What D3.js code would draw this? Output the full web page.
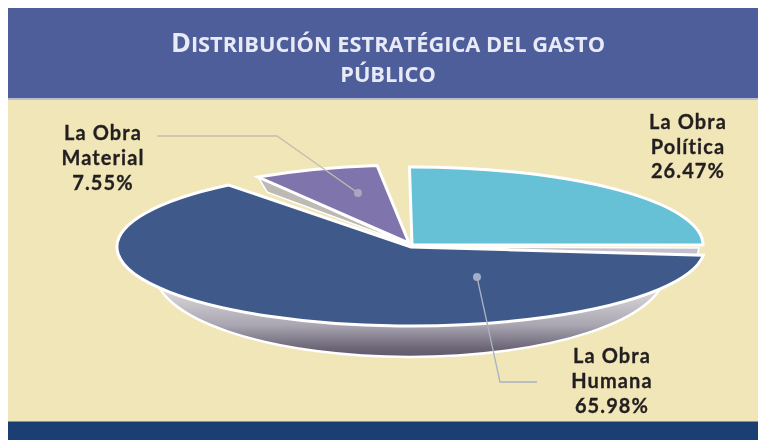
<!DOCTYPE html>
<html><head><meta charset="utf-8">
<script src="https://cdn.jsdelivr.net/npm/d3@7"></script>
<style>html,body{margin:0;padding:0;background:#fff}svg{display:block;filter:blur(.55px)}</style>
</head><body><svg id="c" width="758" height="443"></svg>
<script>
const categories = ["La Obra Política", "La Obra Humana", "La Obra Material"];
const values = [26.47, 65.98, 7.55];
const sliceColors = ["#66c1d6", "#3f5a8a", "#7f74ab"];
const titleLines = ["Distribución estratégica del gasto", "público"];

const svg = d3.select("#c");
const font = "'Open Sans','Noto Sans',sans-serif";
const labelFont = "Lato,'Open Sans',sans-serif";
const rad = d => d * Math.PI / 180;

// panels
svg.append("rect").attr("x",8).attr("y",8).attr("width",750).attr("height",414).attr("fill","#f0e6b8");
svg.append("rect").attr("x",8).attr("y",8).attr("width",750).attr("height",90).attr("fill","#4e5e9a");
svg.append("rect").attr("x",8).attr("y",98).attr("width",750).attr("height",2).attr("fill","#b9bfcf");
svg.append("rect").attr("x",8).attr("y",422).attr("width",750).attr("height",18).attr("fill","#1c3f73");
svg.append("rect").attr("x",8).attr("y",421).attr("width",750).attr("height",1).attr("fill","#8a8f8f");

// title in small caps
const titleY = [52, 82];
titleLines.forEach((line, i) => {
  const t = svg.append("text").attr("x",388).attr("y",titleY[i]).attr("text-anchor","middle")
    .attr("font-family",font).attr("font-weight",700).attr("fill","#e8eaf6");
  if (i === 0) {
    t.append("tspan").attr("font-size",27).text(line[0].toUpperCase());
    t.append("tspan").attr("font-size",21.8).text(line.slice(1).toUpperCase());
  } else {
    t.append("tspan").attr("font-size",21.8).text(line.toUpperCase());
  }
});

// gradients
const defs = svg.append("defs");
const g1 = defs.append("linearGradient").attr("id","dish").attr("x1",0).attr("x2",0).attr("y1",0).attr("y2",1);
[[0.25,"#d6d3d6"],[0.62,"#aaa6b2"],[0.9,"#6b6576"],[1,"#5f596b"]].forEach(s =>
  g1.append("stop").attr("offset",s[0]).attr("stop-color",s[1]));

// pie layout: drawn angles come from the values, with a gap between slices
const gapDeg = 6;
const pie = d3.pie().value(d => d).sort(null)
  .startAngle(rad(-3.5)).endAngle(rad(356.5)).padAngle(rad(gapDeg));
const arcs = pie(values).map(a => ({
  ...a,
  padAngle: 0,
  startAngle: a.startAngle + rad(gapDeg) / 2,
  endAngle: a.endAngle - rad(gapDeg) / 2
}));

const geom = [
  {cx:412, cy:245, rx:291, ry:78},
  {cx:411, cy:247, rx:294, ry:79},
  {cx:409, cy:243, rx:282, ry:78}
];
const arcGen = rx => d3.arc().innerRadius(0).outerRadius(rx);
const rim = (g, a) => {
  const p = d3.pointRadial(a, g.rx);
  return [g.cx + p[0], g.cy + p[1] * g.ry / g.rx];
};

// under-side dish
svg.append("g").attr("transform","translate(410,272) scale(1," + (85/255) + ")")
  .append("path")
  .attr("d", d3.arc().innerRadius(0).outerRadius(255).startAngle(rad(90)).endAngle(rad(270))())
  .attr("fill","url(#dish)").attr("stroke","#fff").attr("stroke-width",2.5)
  .attr("vector-effect","non-scaling-stroke");

// cut walls
const line = d3.line();
const pT = rim(geom[0], arcs[0].endAngle);
svg.append("path")
  .attr("d", line([[geom[0].cx + 2, geom[0].cy + 2], [pT[0] - 4, pT[1] + 3], [pT[0] - 6, pT[1] + 11]]) + "Z")
  .attr("fill","#c4bfd0").attr("stroke","#fff").attr("stroke-width",1.5);
const pM = rim(geom[2], arcs[2].startAngle);
svg.append("path")
  .attr("d", line([[pM[0], pM[1]], [pM[0] + 9, pM[1] + 15], [geom[2].cx - 4, geom[2].cy]]) + "Z")
  .attr("fill","#bdb9b4").attr("stroke","#fff").attr("stroke-width",1.5);

// slices
arcs.forEach((a, i) => {
  const g = geom[i];
  svg.append("g").attr("transform",`translate(${g.cx},${g.cy}) scale(1,${g.ry/g.rx})`)
    .append("path")
    .attr("d", arcGen(g.rx)(a))
    .attr("fill", sliceColors[i])
    .attr("stroke","#fff").attr("stroke-width",3).attr("stroke-linejoin","miter")
    .attr("vector-effect","non-scaling-stroke");
});

// leaders
const leaders = [
  {pts:[[157,136],[277,136],[358,193]], color:"#c2bdb0"},
  {pts:[[477,277],[500,382],[537,382]], color:"#aab2c4"}
];
leaders.forEach(l => {
  svg.append("path").attr("d", line(l.pts)).attr("fill","none").attr("stroke",l.color).attr("stroke-width",1.3);
});
svg.append("circle").attr("cx",358).attr("cy",193).attr("r",4).attr("fill","#a9a7bf");
svg.append("circle").attr("cx",477).attr("cy",277).attr("r",4).attr("fill","#a3adc6");

// labels
const labelPos = [
  {x:688, y:[129,154,178]},
  {x:612, y:[363,388,413]},
  {x:103, y:[140,165,190]}
];
categories.forEach((c, i) => {
  const words = c.split(" ");
  const rows = [words.slice(0,2).join(" "), words[2], values[i].toFixed(2) + "%"];
  rows.forEach((r, k) => {
    svg.append("text").attr("x",labelPos[i].x).attr("y",labelPos[i].y[k]).attr("text-anchor","middle")
      .attr("font-family",labelFont).attr("font-weight",700).attr("font-size",20)
      .attr("letter-spacing",1.1).attr("stroke","#231f20").attr("stroke-width",0.3)
      .attr("fill","#231f20").text(r);
  });
});
</script></body></html>
